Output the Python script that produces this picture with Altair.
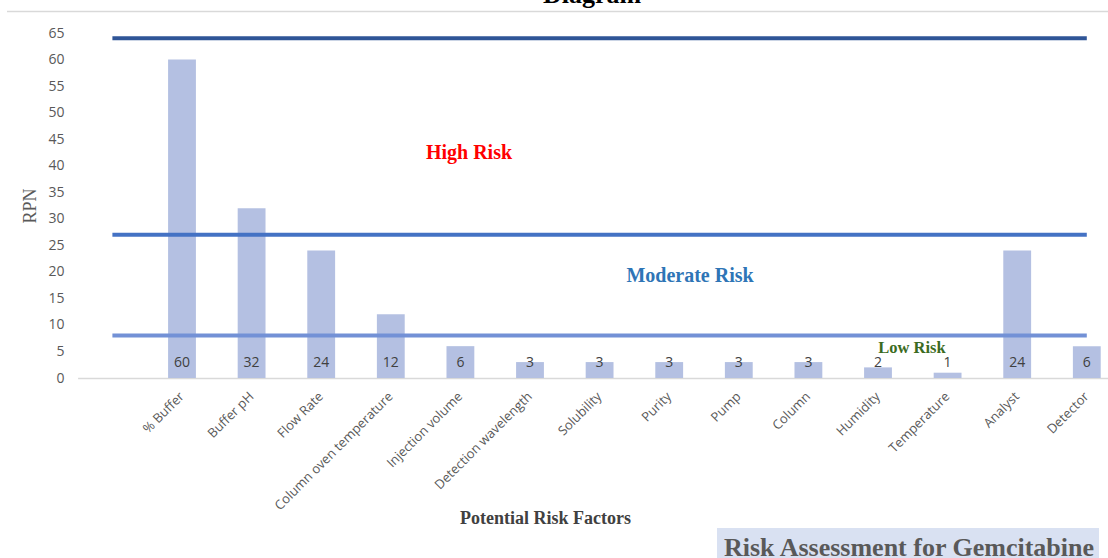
import altair as alt
import pandas as pd

# Risk factors and their risk priority numbers
factors = [
    "% Buffer", "Buffer pH", "Flow Rate", "Column oven temperature",
    "Injection volume", "Detection wavelength", "Solubility", "Purity",
    "Pump", "Column", "Humidity", "Temperature", "Analyst", "Detector",
]
rpn = [60, 32, 24, 12, 6, 3, 3, 3, 3, 3, 2, 1, 24, 6]

# Empty slot that opens the category axis
lead_slot = " "
x_domain = [lead_slot] + factors

# Risk band limits
limit_names = ["High", "Moderate", "Low"]
limit_values = [64, 27, 8]
limit_colors = ["#2F5597", "#4472C4", "#7391D6"]

# Band captions
caption_texts = ["High Risk", "Moderate Risk", "Low Risk"]
caption_levels = [41.3, 18.1, 4.8]

y_ticks = list(range(0, 70, 5))

bars_df = pd.DataFrame({"factor": factors, "rpn": rpn})
limits_df = pd.DataFrame({
    "level": [n for n in limit_names for _ in range(2)],
    "factor": [lead_slot, factors[-1]] * len(limit_names),
    "rpn": [v for v in limit_values for _ in range(2)],
})
one_row = pd.DataFrame({"k": [0]})

SERIF = "Liberation Serif"
SANS = "Open Sans"

x_scale = alt.Scale(domain=x_domain, range=[4.6, 1048.6],
                    paddingInner=0.6, paddingOuter=0.3)
y_scale = alt.Scale(domain=[0, 65], nice=False)

x_axis = alt.Axis(
    domain=True, domainColor="#D9D9D9", domainWidth=1.5,
    ticks=False, grid=False,
    labelAngle=-45, labelAlign="right", labelBaseline="middle",
    labelPadding=16, labelFont=SANS, labelFontSize=13,
    labelColor="#595959", labelOverlap=False, labelLimit=400,
    title="Potential Risk Factors", titleFont=SERIF, titleFontSize=18,
    titleFontWeight="bold", titleColor="#404040",
    titleX=472, titleY=140, titleAlign="center", titleBaseline="middle",
)
y_axis = alt.Axis(
    values=y_ticks, tickCount=14, domain=False, ticks=False, grid=False,
    labelPadding=9, labelFont=SANS, labelFontSize=14, labelColor="#595959",
    labelOverlap=False,
    title="RPN", titleFont=SERIF, titleFontSize=18, titleFontWeight="normal",
    titleColor="#595959", titlePadding=8,
)

x_enc = alt.X("factor:N", scale=x_scale, axis=x_axis)

bars = alt.Chart(bars_df).mark_bar(color="#B4C0E2").encode(
    x=x_enc,
    y=alt.Y("rpn:Q", scale=y_scale, axis=y_axis),
)

# Value labels sit just above the base of each bar
values = alt.Chart(bars_df).mark_text(
    font=SANS, fontSize=14, color="#404040", baseline="middle", dy=-15
).encode(
    x=alt.X("factor:N", axis=x_axis),
    y=alt.YDatum(0, axis=y_axis),
    text=alt.Text("rpn:Q"),
)

limits = alt.Chart(limits_df).mark_line(strokeWidth=4).encode(
    x=alt.X("factor:N", axis=x_axis),
    y=alt.Y("rpn:Q", axis=y_axis),
    color=alt.Color("level:N", scale=alt.Scale(domain=limit_names, range=limit_colors),
                    legend=None),
    detail="level:N",
)

caption_colors = ["#FF0000", "#2E75B6", "#3B6B22"]
caption_sizes = [20, 20, 16.5]
caption_x = [396, 617, 839]
captions = [
    alt.Chart(one_row).mark_text(
        font=SERIF, fontWeight="bold", fontSize=caption_sizes[i],
        color=caption_colors[i], align="center", baseline="alphabetic",
    ).encode(x=alt.value(caption_x[i]),
             y=alt.YDatum(caption_levels[i], axis=y_axis),
             text=alt.value(caption_texts[i]))
    for i in range(3)
]

# Sheet ruler line and cut-off heading above the plot
ruler = alt.Chart(one_row).mark_rule(color="#D9D9D9", strokeWidth=1.5).encode(
    x=alt.value(-66), x2=alt.value(1035), y=alt.value(-21.5)
)
heading = alt.Chart(one_row).mark_text(
    font=SERIF, fontWeight="bold", fontSize=26, color="#000000",
    align="center", baseline="alphabetic",
).encode(x=alt.value(519), y=alt.value(-30), text=alt.value("Diagram"))

# Caption box at the lower right
box = alt.Chart(one_row).mark_rect(color="#D9E1F2").encode(
    x=alt.value(644), x2=alt.value(1026), y=alt.value(495), y2=alt.value(540)
)
box_text = alt.Chart(one_row).mark_text(
    font=SERIF, fontWeight="bold", fontSize=26, color="#595959",
    align="left", baseline="alphabetic",
).encode(x=alt.value(651), y=alt.value(523),
         text=alt.value("Risk Assessment for Gemcitabine"))

chart = alt.layer(
    ruler, heading, bars, values, limits, *captions, box, box_text
).properties(
    width=1035, height=345,
    autosize=alt.AutoSizeParams(type="none"),
    padding={"left": 73, "top": 33, "right": 0, "bottom": 180},
    background="white",
).configure_view(stroke=None)

chart.save("out.html", embed_options={"renderer": "svg", "actions": False})
